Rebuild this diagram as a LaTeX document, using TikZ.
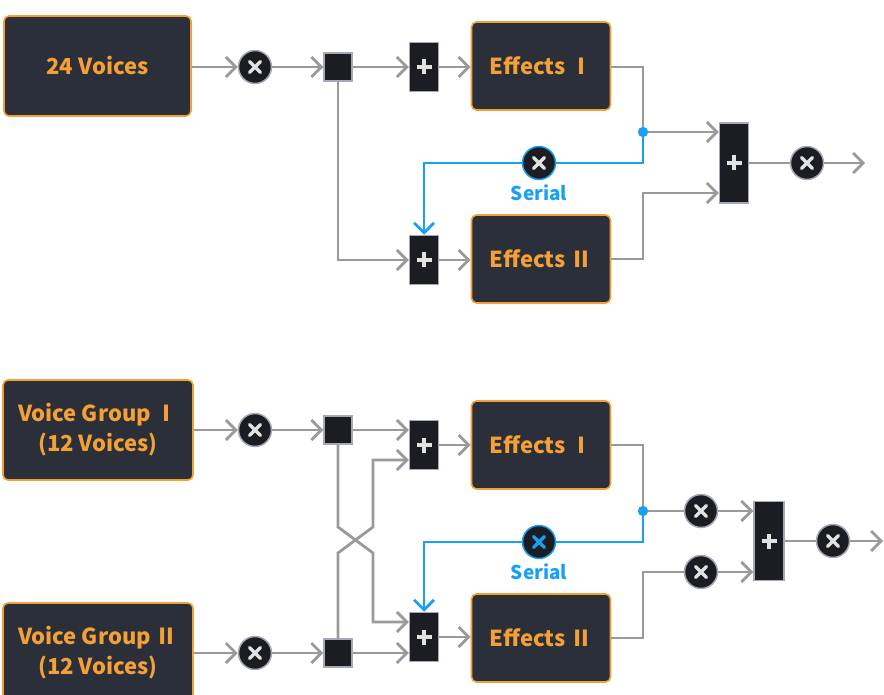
\documentclass[tikz,border=0pt]{standalone}
\usepackage{fontspec}
\setmainfont{Noto Sans CJK SC}
\usetikzlibrary{arrows.meta}
\definecolor{boxfill}{HTML}{2B2F3A}
\definecolor{boxedge}{HTML}{F5A035}
\definecolor{txtor}{HTML}{F5A035}
\definecolor{wire}{HTML}{9A9A9A}
\definecolor{blu}{HTML}{18A0F2}
\definecolor{dark}{HTML}{1C1D22}
\definecolor{rim}{HTML}{A8A8B6}
\definecolor{glyph}{HTML}{E2E2E2}
\tikzset{
  bigbox/.style={draw=boxedge, line width=1.6pt, fill=boxfill, rounded corners=5pt,
    text=txtor, font=\bfseries\fontsize{22}{30}\selectfont, align=center, inner sep=0pt},
  mult/.style={circle, draw=rim, line width=1.5pt, fill=dark, minimum size=33pt, inner sep=0pt,
    path picture={\draw[#1, line width=3.2pt, line cap=round]
      ([shift={(-5.5pt,-5.5pt)}]path picture bounding box.center) -- ([shift={(5.5pt,5.5pt)}]path picture bounding box.center)
      ([shift={(-5.5pt,5.5pt)}]path picture bounding box.center) -- ([shift={(5.5pt,-5.5pt)}]path picture bounding box.center);}},
  mult/.default=glyph,
  splitbox/.style={rectangle, draw=rim, line width=1.5pt, fill=dark, minimum size=28pt, inner sep=0pt},
  plusbox/.style={rectangle, draw=rim, line width=1.5pt, fill=dark, minimum width=29pt, minimum height=#1, inner sep=0pt,
    path picture={\draw[glyph, line width=3.2pt]
      ([xshift=-7.5pt]path picture bounding box.center) -- ([xshift=7.5pt]path picture bounding box.center)
      ([yshift=-7.5pt]path picture bounding box.center) -- ([yshift=7.5pt]path picture bounding box.center);}},
  plusbox/.default=49pt,
  wir/.style={draw=wire, line width=2.8pt},
  arr/.style={wir, -{Straight Barb[length=10pt,width=20pt,line width=2.8pt]}},
  bwir/.style={draw=blu, line width=2.8pt},
  barr/.style={bwir, -{Straight Barb[length=10pt,width=20pt,line width=2.8pt]}},
  bdot/.style={circle, fill=blu, minimum size=10pt, inner sep=0pt},
  serial/.style={text=blu, font=\bfseries\fontsize{19}{22}\selectfont},
}
\begin{document}
\begin{tikzpicture}[x=1pt,y=-1pt]
\useasboundingbox (0,0) rectangle (884,695);
% ---------- top ----------
\node[bigbox, minimum width=187pt, minimum height=100pt] (v24) at (97.5,66) {24 Voices};
\node[mult] (m1) at (255,67) {};
\node[splitbox] (s1) at (338,67) {};
\node[plusbox] (p1) at (424,67) {};
\node[bigbox, minimum width=139pt, minimum height=88pt] (e1) at (541,66) {Effects Ⅰ};
\node[plusbox] (p2) at (424,260) {};
\node[bigbox, minimum width=139pt, minimum height=88pt] (e2) at (541,259) {Effects Ⅱ};
\node[bdot] (d1) at (643,132) {};
\node[plusbox=80pt] (bp1) at (734,163) {};
\node[mult, draw=blu] (sm1) at (539,163) {};
\node[serial] (ser1) at (539,193) {Serial};
\node[mult] (om1) at (807,163) {};
\coordinate (end1) at (865,163);
\coordinate (c1) at (643,67);
\coordinate (c2) at (643,163);
\coordinate (c3) at (424,163);
\coordinate (c4) at (338,260);
\coordinate (c5) at (643,259);
\coordinate (c6) at (643,193);

\draw[arr] (v24.east |- m1) -- (m1);
\draw[arr] (m1) -- (s1);
\draw[arr] (s1) -- (p1);
\draw[arr] (p1) -- (e1.west |- p1);
\draw[wir] (e1.east |- c1) -- (c1) -- (d1.center);
\draw[arr] (d1.center) -- (bp1.west |- d1);
\draw[bwir] (d1.center) -- (c2) -- (sm1);
\draw[barr] (sm1) -- (c3) -- (p2.north);
\draw[arr] (s1.south) -- (c4) -- (p2.west);
\draw[arr] (p2) -- (e2.west |- p2);
\draw[arr] (e2.east |- c5) -- (c5) -- (c6) -- (bp1.west |- c6);
\draw[wir] (bp1) -- (om1);
\draw[arr] (om1) -- (end1);
\node[bdot] at (d1) {};

% ---------- bottom ----------
\node[bigbox, minimum width=190pt, minimum height=100pt] (vg1) at (98,430) {Voice Group Ⅰ\\(12 Voices)};
\node[bigbox, minimum width=190pt, minimum height=100pt] (vg2) at (98,653) {Voice Group Ⅱ\\(12 Voices)};
\node[mult] (m2) at (255,430) {};
\node[mult] (m3) at (255,653) {};
\node[splitbox] (s2) at (338,430) {};
\node[splitbox] (s3) at (338,653) {};
\node[plusbox] (p3) at (424,445) {};
\node[plusbox] (p4) at (424,637) {};
\node[bigbox, minimum width=139pt, minimum height=88pt] (e3) at (541,445) {Effects Ⅰ};
\node[bigbox, minimum width=139pt, minimum height=88pt] (e4) at (541,638) {Effects Ⅱ};
\node[bdot] (d2) at (643,511) {};
\node[mult=blu, draw=blu] (sm2) at (539,542) {};
\node[serial] (ser2) at (539,572) {Serial};
\node[mult] (bm1) at (701,511) {};
\node[mult] (bm2) at (701,572) {};
\node[plusbox=79pt, minimum width=30pt] (bp2) at (769,541) {};
\node[mult] (om2) at (833,541) {};
\coordinate (end2) at (883,541);

\draw[arr] (vg1.east |- m2) -- (m2);
\draw[arr] (vg2.east |- m3) -- (m3);
\draw[arr] (m2) -- (s2);
\draw[arr] (m3) -- (s3);
\draw[arr] (s2) -- (p3.west |- s2);
\draw[arr] (s3) -- (p4.west |- s3);
\coordinate (x1) at (338,527);
\coordinate (x2) at (373,553);
\coordinate (x3) at (373,622);
\coordinate (y1) at (338,553);
\coordinate (y2) at (373,527);
\coordinate (y3) at (373,460);
\draw[arr] (s2.south) -- (x1) -- (x2) -- (x3) -- (p4.west |- x3);
\draw[arr] (s3.north) -- (y1) -- (y2) -- (y3) -- (p3.west |- y3);
\draw[arr] (p3) -- (e3.west |- p3);
\draw[arr] (p4) -- (e4.west |- p4);
\coordinate (k1) at (643,445);
\coordinate (k2) at (643,542);
\coordinate (k3) at (424,542);
\coordinate (k4) at (643,638);
\coordinate (k5) at (643,572);
\draw[wir] (e3.east |- k1) -- (k1) -- (d2.center) -- (bm1);
\draw[arr] (bm1) -- (bp2.west |- bm1);
\draw[wir] (e4.east |- k4) -- (k4) -- (k5) -- (bm2);
\draw[arr] (bm2) -- (bp2.west |- bm2);
\draw[bwir] (d2.center) -- (k2) -- (sm2);
\draw[barr] (sm2) -- (k3) -- (p4.north);
\draw[wir] (bp2) -- (om2);
\draw[arr] (om2) -- (end2);
\node[bdot] at (d2) {};
\end{tikzpicture}
\end{document}
